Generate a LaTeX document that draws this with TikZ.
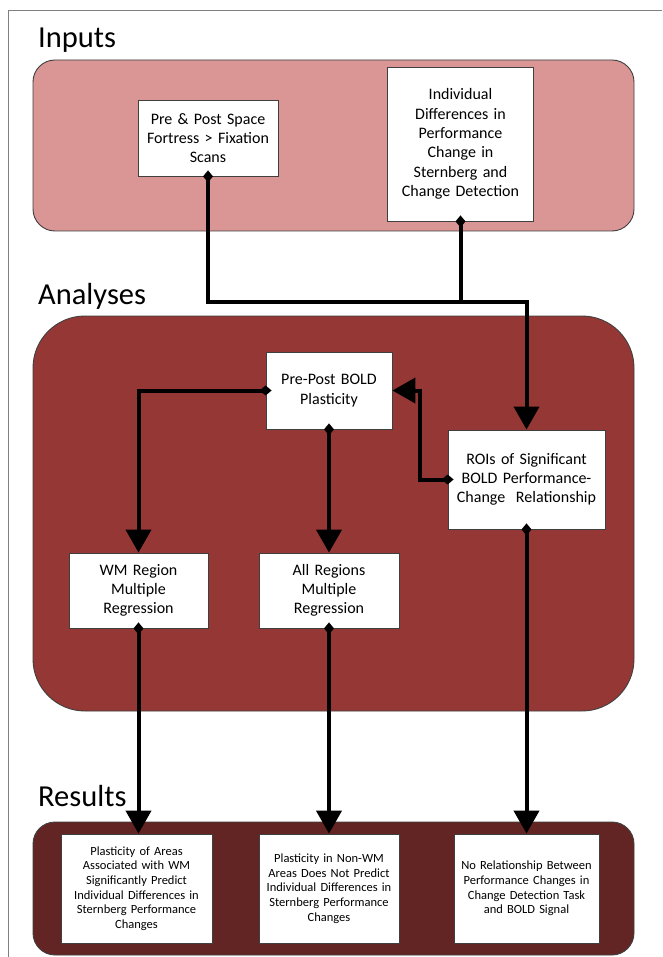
\documentclass[tikz,border=0pt]{standalone}
\usepackage{fontspec}
\setmainfont{Carlito}
\usetikzlibrary{arrows.meta,calc}
\definecolor{inpink}{HTML}{D99694}
\definecolor{anred}{HTML}{953735}
\definecolor{resred}{HTML}{632523}
\definecolor{edgegray}{HTML}{3F3F3F}
\definecolor{framegray}{HTML}{7F7F7F}
\begin{document}
\begin{tikzpicture}[x=1pt,y=-1pt,
  panel/.style={draw=edgegray, line width=0.9pt},
  titletext/.style={anchor=base west, inner sep=0pt, font=\fontsize{30.5}{36}\selectfont},
  bx/.style 2 args={draw=edgegray, fill=white, line width=0.8pt, inner sep=0pt, align=center,
    text width=#1pt, minimum height=#2pt, font=\fontsize{16}{19.3}\selectfont},
  rbx/.style 2 args={draw=edgegray, fill=white, line width=0.8pt, inner sep=0pt, align=center,
    text width=#1pt, minimum height=#2pt, font=\fontsize{12.5}{14.7}\selectfont},
  conn/.style={line width=4pt, line join=miter},
  dstart/.style={shorten <=-6pt},
  link/.style={conn, dstart, {Diamond[length=12pt,width=10pt]}-{Triangle[length=23pt,width=25pt]}},
]
\useasboundingbox (0,0) rectangle (662,957);
\fill[white] (0,0) rectangle (662,957);
\draw[framegray, line width=1pt] (8,957) -- (8,11) -- (662,11);

% panels
\draw[panel, fill=inpink, rounded corners=22pt] (33,60) rectangle (634,231);
\draw[panel, fill=anred, rounded corners=52pt] (33,316) rectangle (634,711);
\draw[panel, fill=resred, rounded corners=22pt] (33,822) rectangle (634,955);

% titles
\node[titletext] (tin) at (38,48) {Inputs};
\node[titletext] (tan) at (38,304) {Analyses};
\node[titletext] (tres) at (38,806) {Results};

% input boxes
\node[bx={140}{76}] (scans) at (208,138) {Pre \& Post Space\\Fortress > Fixation\\Scans};
\node[bx={146}{154}] (indiv) at (460.5,144) {Individual\\Differences in\\Performance\\Change in\\Sternberg and\\Change Detection};

% analysis boxes
\node[bx={126}{77}] (bold) at (329,390.5) {Pre-Post BOLD\\Plasticity};
\node[bx={157}{99}] (rois) at (526.5,479.5) {ROIs of Significant\\BOLD Performance-\\Change~ Relationship};
\node[bx={139}{75}] (wm) at (138.5,590.5) {WM Region\\Multiple\\Regression};
\node[bx={140}{75}] (all) at (329,590.5) {All Regions\\Multiple\\Regression};

% result boxes
\node[rbx={151}{109}] (r1) at (136.5,888.5) {Plasticity of Areas\\Associated with WM\\Significantly Predict\\Individual Differences in\\Sternberg Performance\\Changes};
\node[rbx={140}{109}] (r2) at (329,888.5) {Plasticity in Non-WM\\Areas Does Not Predict\\Individual Differences in\\Sternberg Performance\\Changes};
\node[rbx={145}{109}] (r3) at (526.5,888.5) {No Relationship Between\\Performance Changes in\\Change Detection Task\\and BOLD Signal};

\coordinate (bus) at (0,302);

% connectors
\draw[link] (scans.south) |- (bus -| rois.north) -- (rois.north);
\draw[conn, dstart, {Diamond[length=12pt,width=10pt]}-] (indiv.south) -- (indiv.south |- bus);
\draw[link] (bold.west) -| (wm.north);
\draw[link] (bold.south) -- (all.north);
\draw[link] (rois.west) -- ++(-28,0) |- (bold.east);
\draw[link] (wm.south) -- (wm.south |- r1.north);
\draw[link] (all.south) -- (r2.north);
\draw[link] (rois.south) -- (r3.north);
\end{tikzpicture}
\end{document}
